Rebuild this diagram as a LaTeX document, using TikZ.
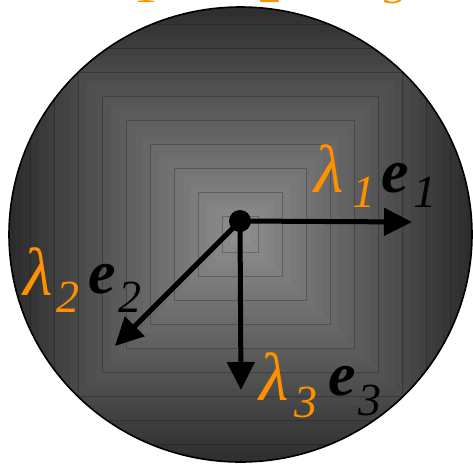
\documentclass[tikz,border=0pt]{standalone}
\usepackage{fontspec}
\setmainfont{Liberation Serif}
\usetikzlibrary{arrows.meta}
\definecolor{lamorange}{RGB}{255,145,0}
\begin{document}
\begin{tikzpicture}[x=1pt,y=-1pt,
  lam/.style={text=lamorange, font=\fontsize{68}{70}\selectfont\itshape, inner sep=0pt, anchor=base west},
  lamsub/.style={text=lamorange, font=\fontsize{46}{48}\selectfont\itshape, inner sep=0pt, anchor=base west},
  vec/.style={text=black, font=\fontsize{62}{64}\selectfont\bfseries\itshape, inner sep=0pt, anchor=base west},
  vecsub/.style={text=black, font=\fontsize{46}{48}\selectfont\itshape, inner sep=0pt, anchor=base west},
  axis/.style={line width=5pt, -{Triangle[length=28pt,width=27pt]}},
  dot/.style={circle, fill=black, minimum size=22pt, inner sep=0pt}]
\useasboundingbox (0,0) rectangle (473,464);
% shaded disc made of nested squares
\begin{scope}
  \clip (240.5,234.5) ellipse [x radius=231.5, y radius=227.5];
  \foreach \i in {0,...,40} {
    \pgfmathsetmacro\s{330-8*\i}
    \pgfmathsetmacro\l{0.57-0.40*min(\s,235)/235}
    \definecolor{sq}{gray}{\l}
    \fill[sq] (240.5-\s,234.5-\s) rectangle (240.5+\s,234.5+\s);
    \pgfmathtruncatemacro\m{mod(\i,3)}
    \ifnum\m=0
      \draw[sq!75!black, line width=0.8pt] (240.5-\s,234.5-\s) rectangle (240.5+\s,234.5+\s);
    \fi
  }
\end{scope}
\draw[line width=1.6pt] (240.5,234.5) ellipse [x radius=231.5, y radius=227.5];
% axes
\node[dot] (o) at (240,221) {};
\coordinate (t1) at (412,222);
\coordinate (t2) at (115,346);
\coordinate (t3) at (241,390);
\draw[axis] (o.center) -- (t1);
\draw[axis] (o.center) -- (t2);
\draw[axis] (o.center) -- (t3);
% labels
\node[lam] (l1) at (314,192) {λ};
\node[lamsub] (l1s) at (352,207) {1};
\node[vec] (e1) at (381,192) {e};
\node[vecsub] (e1s) at (413,207) {1};
\node[lam] (l2) at (23,295) {λ};
\node[lamsub] (l2s) at (56,312) {2};
\node[vec] (e2) at (88,293) {e};
\node[vecsub] (e2s) at (118,312) {2};
\node[lam] (l3) at (259,400) {λ};
\node[lamsub] (l3s) at (294,417) {3};
\node[vec] (e3) at (328,395) {e};
\node[vecsub] (e3s) at (358,415) {3};
% cut-off caption at top
\node[lamsub] (c1) at (136,2) {1};
\node[lamsub] (c2) at (260,2) {2};
\node[lamsub] (c3) at (384,3) {3};
\end{tikzpicture}
\end{document}
